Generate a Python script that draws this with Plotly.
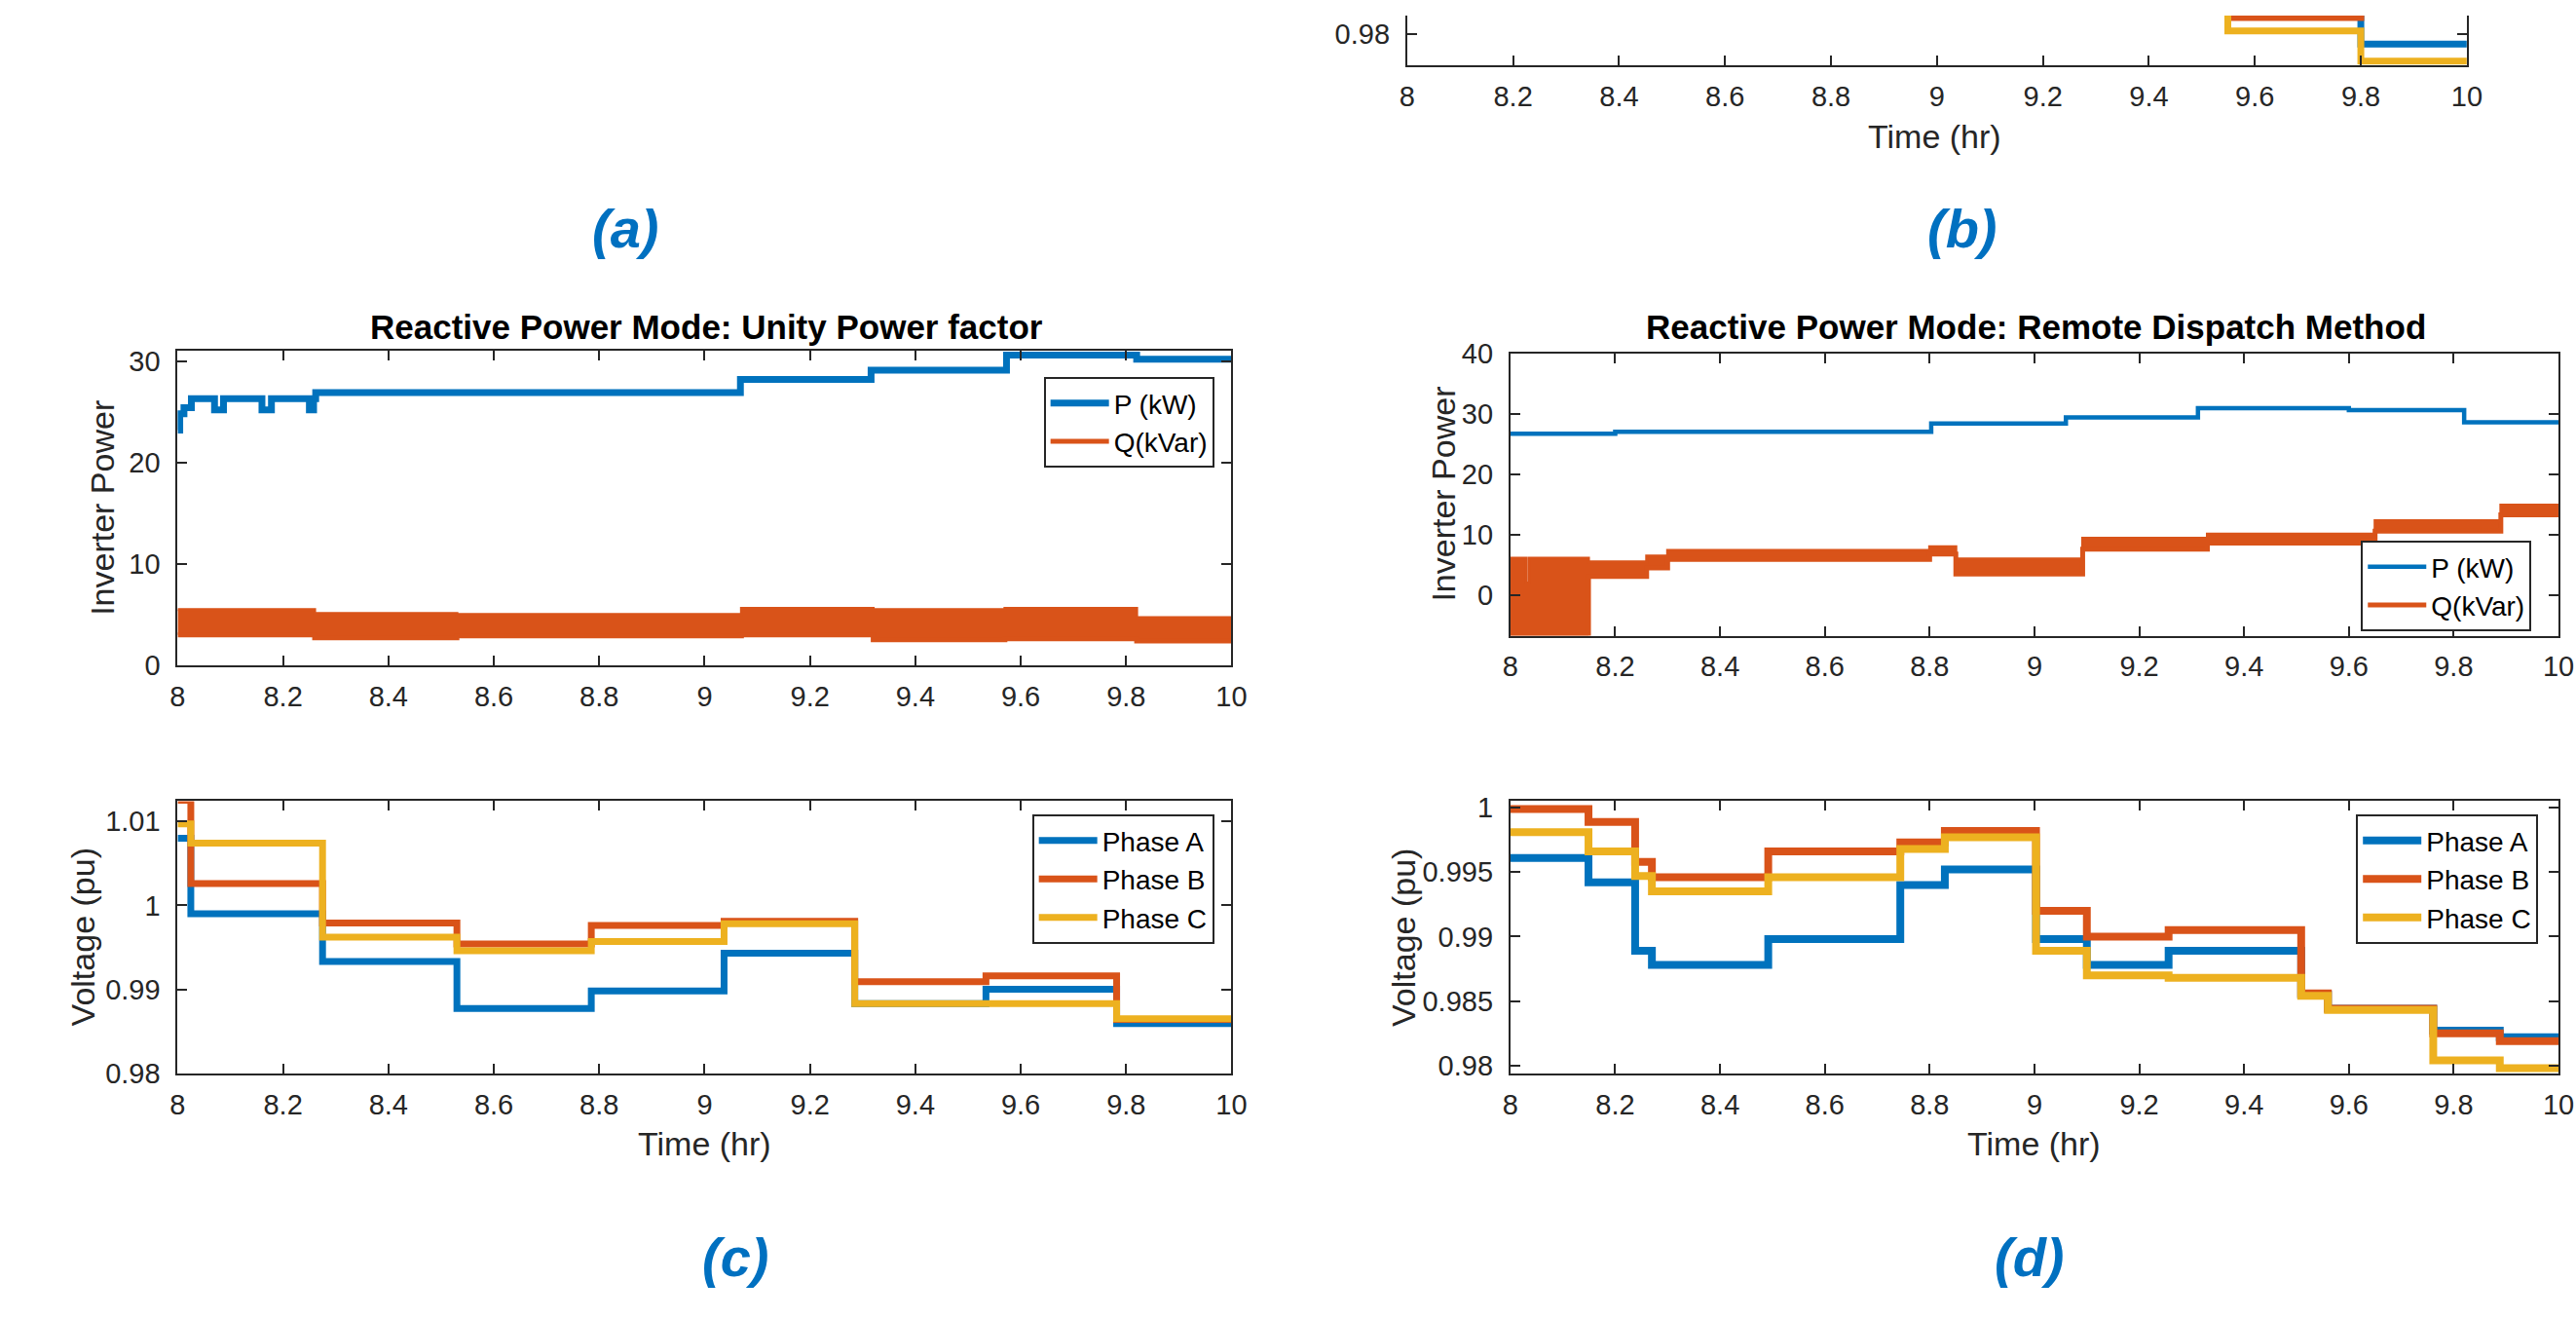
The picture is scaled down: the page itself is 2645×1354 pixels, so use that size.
import plotly.graph_objects as go

W, H = 2645, 1354
BLUE = '#0072BD'
ORANGE = '#D95319'
YELLOW = '#EDB120'
AX = '#262626'
FONT = 'Liberation Sans, Arial, Helvetica, sans-serif'

# ---------------- tick definitions ----------------
x_ticks = [8, 8.2, 8.4, 8.6, 8.8, 9, 9.2, 9.4, 9.6, 9.8, 10]
x_tick_labels = ['8', '8.2', '8.4', '8.6', '8.8', '9', '9.2', '9.4', '9.6', '9.8', '10']

# ---------------- panel (b) (only bottom part visible) ----------------
b_time = [9.4, 9.549, 9.8, 10.0]
b_phase_a = [0.9835, 0.9835, 0.97927, 0.97927]
b_phase_b = [0.9830, 0.98113, 0.9825, 0.9825]
b_phase_c = [0.9835, 0.9802, 0.97807, 0.97807]
b_y_ticks = [0.98]
b_y_labels = ['0.98']

# ---------------- panel (c) top: Unity power factor ----------------
c_p_time = [8.0, 8.004, 8.012, 8.026, 8.07, 8.087, 8.16, 8.178, 8.25, 8.258,
            8.262, 9.068, 9.316, 9.573, 9.82, 10.0]
c_p_kw = [23.2, 24.8, 25.4, 26.3, 25.2, 26.3, 25.2, 26.3, 25.2, 26.3,
          26.9, 28.2, 29.1, 30.6, 30.2, 30.2]
c_q_time = [8.0, 8.26, 8.53, 9.07, 9.32, 9.57, 9.82, 10.0]
c_q_low = [3.0, 2.7, 2.9, 3.0, 2.5, 2.6, 2.4, 2.4]
c_q_high = [5.5, 5.1, 5.0, 5.6, 5.5, 5.6, 4.7, 4.7]
c_pow_ticks = [0, 10, 20, 30]

# ---------------- panel (c) bottom: voltages ----------------
c_v_time = [8.0, 8.025, 8.275, 8.53, 8.785, 9.037, 9.285, 9.534, 9.782, 10.0]
c_phase_a = [1.0080, 0.9990, 0.9933, 0.9877, 0.9898, 0.9943, 0.9883, 0.9900, 0.9859, 0.9859]
c_phase_b = [1.0125, 1.0026, 0.9979, 0.9954, 0.9976, 0.9981, 0.9909, 0.9916, 0.9864, 0.9864]
c_phase_c = [1.0097, 1.0074, 0.9962, 0.9946, 0.9957, 0.9978, 0.9883, 0.9883, 0.9865, 0.9865]
c_v_ticks = [0.98, 0.99, 1.0, 1.01]
c_v_labels = ['0.98', '0.99', '1', '1.01']

# ---------------- panel (d) top: Remote dispatch ----------------
d_p_time = [8.0, 8.2, 8.803, 9.06, 9.312, 9.6, 9.82, 10.0]
d_p_kw = [26.7, 27.0, 28.4, 29.4, 30.9, 30.6, 28.6, 28.6]
d_q_time = [8.0, 8.03, 8.036, 8.149, 8.26, 8.3, 8.8, 8.85, 9.092, 9.33, 9.65, 9.89, 10.0]
d_q_low = [-6.7, -6.7, -6.7, 3.1, 4.5, 5.9, 6.8, 3.5, 7.6, 8.6, 10.6, 13.3, 13.3]
d_q_high = [6.1, 2.0, 6.1, 5.5, 6.5, 7.4, 8.0, 6.0, 9.4, 10.1, 12.3, 14.9, 14.9]
d_pow_ticks = [0, 10, 20, 30, 40]

# ---------------- panel (d) bottom: voltages ----------------
d_v_time = [8.0, 8.149, 8.238, 8.27, 8.492, 8.744, 8.829, 9.003, 9.1, 9.256,
            9.509, 9.56, 9.761, 9.888, 10.0]
d_phase_a = [0.9961, 0.9942, 0.9889, 0.9878, 0.9898, 0.9940, 0.9952, 0.9898, 0.9878, 0.9889,
             0.9855, 0.9844, 0.9827, 0.9822, 0.9822]
d_phase_b = [0.9999, 0.9989, 0.9958, 0.9946, 0.9966, 0.9973, 0.9982, 0.9920, 0.9900, 0.9905,
             0.9856, 0.9844, 0.9825, 0.9819, 0.9819]
d_phase_c = [0.9981, 0.9966, 0.9947, 0.9935, 0.9946, 0.9968, 0.9977, 0.9889, 0.9870, 0.9868,
             0.9854, 0.9843, 0.9804, 0.9798, 0.9798]
d_v_ticks = [0.98, 0.985, 0.99, 0.995, 1.0]
d_v_labels = ['0.98', '0.985', '0.99', '0.995', '1']


def fx(p):
    return p / W


def fy(p):
    return 1 - p / H


fig = go.Figure()


def step(x, y, xa, ya, color, width, name=None, legend=None, showlegend=False, fill=None):
    fig.add_trace(go.Scatter(
        x=x, y=y, xaxis=xa, yaxis=ya, mode='lines',
        line=dict(color=color, width=width, shape='hv'),
        name=name, legend=legend, showlegend=showlegend,
        fill=fill, fillcolor=color if fill else None,
        hoverinfo='skip'))


# panel (b)
step(b_time, b_phase_a, 'x5', 'y5', BLUE, 7)
step(b_time, b_phase_b, 'x5', 'y5', ORANGE, 7)
step(b_time, b_phase_c, 'x5', 'y5', YELLOW, 7)

# panel (c) top
step(c_p_time, c_p_kw, 'x', 'y', BLUE, 7, 'P (kW)', 'legend', True)
step(c_q_time, c_q_low, 'x', 'y', ORANGE, 5, 'Q(kVar)', 'legend', True)
step(c_q_time, c_q_high, 'x', 'y', ORANGE, 3, None, 'legend', False, 'tonexty')

# panel (c) bottom
step(c_v_time, c_phase_a, 'x2', 'y2', BLUE, 7, 'Phase A', 'legend2', True)
step(c_v_time, c_phase_b, 'x2', 'y2', ORANGE, 7, 'Phase B', 'legend2', True)
step(c_v_time, c_phase_c, 'x2', 'y2', YELLOW, 7, 'Phase C', 'legend2', True)

# panel (d) top
step(d_p_time, d_p_kw, 'x3', 'y3', BLUE, 4.5, 'P (kW)', 'legend3', True)
step(d_q_time, d_q_low, 'x3', 'y3', ORANGE, 5, 'Q(kVar)', 'legend3', True)
step(d_q_time, d_q_high, 'x3', 'y3', ORANGE, 3, None, 'legend3', False, 'tonexty')

# panel (d) bottom
step(d_v_time, d_phase_a, 'x4', 'y4', BLUE, 8, 'Phase A', 'legend4', True)
step(d_v_time, d_phase_b, 'x4', 'y4', ORANGE, 8, 'Phase B', 'legend4', True)
step(d_v_time, d_phase_c, 'x4', 'y4', YELLOW, 8, 'Phase C', 'legend4', True)

TICKFONT = dict(family=FONT, size=29, color=AX)


def xcfg(domain, anchor, mirror=True):
    return dict(domain=domain, anchor=anchor, range=[8, 10],
                tickvals=x_ticks, ticktext=x_tick_labels,
                ticks='inside', ticklen=10, tickwidth=1.5, tickcolor=AX,
                showline=True, linecolor=AX, linewidth=2,
                mirror='ticks' if mirror else False,
                showgrid=False, zeroline=False, tickfont=TICKFONT,
                ticklabelstandoff=5, fixedrange=True)


def ycfg(domain, anchor, rng, tv, tt):
    return dict(domain=domain, anchor=anchor, range=rng,
                tickvals=tv, ticktext=tt,
                ticks='inside', ticklen=10, tickwidth=1.5, tickcolor=AX,
                showline=True, linecolor=AX, linewidth=2, mirror='ticks',
                showgrid=False, zeroline=False, tickfont=TICKFONT,
                ticklabelstandoff=10, fixedrange=True)


c_x = [fx(176), fx(1268)]
d_x = [fx(1557), fx(2643)]
b_x = [fx(1450), fx(2548)]
c_top_y = [fy(683), fy(352)]
d_top_y = [fy(652), fy(355)]
bot_y = [fy(1112), fy(826)]
b_y = [fy(52), 1.0]

LEG = dict(bgcolor='white', bordercolor=AX, borderwidth=2,
           font=dict(family=FONT, size=28, color='black'),
           itemwidth=60, xanchor='right', yanchor='top',
           tracegroupgap=0, traceorder='normal')

fig.update_layout(
    width=W, height=H,
    margin=dict(l=0, r=0, t=0, b=0),
    paper_bgcolor='white', plot_bgcolor='white',
    xaxis=xcfg(c_x, 'y'),
    yaxis=ycfg(c_top_y, 'x', [0, 31.06], c_pow_ticks, [str(v) for v in c_pow_ticks]),
    xaxis2=xcfg(c_x, 'y2'),
    yaxis2=ycfg(bot_y, 'x2', [0.98, 1.0124], c_v_ticks, c_v_labels),
    xaxis3=xcfg(d_x, 'y3'),
    yaxis3=ycfg(d_top_y, 'x3', [-6.7, 40], d_pow_ticks, [str(v) for v in d_pow_ticks]),
    xaxis4=xcfg(d_x, 'y4'),
    yaxis4=ycfg(bot_y, 'x4', [0.9794, 1.0005], d_v_ticks, d_v_labels),
    xaxis5=xcfg(b_x, 'y5', mirror=False),
    yaxis5=ycfg(b_y, 'x5', [0.9778, 0.981267], b_y_ticks, b_y_labels),
    legend=dict(LEG, x=fx(1250), y=fy(380)),
    legend2=dict(LEG, x=fx(1250), y=fy(840)),
    legend3=dict(LEG, x=fx(2615), y=fy(552)),
    legend4=dict(LEG, x=fx(2622), y=fy(840)),
    showlegend=True,
)

LABELFONT = dict(family=FONT, size=34, color=AX)
TITLEFONT = dict(family=FONT, size=35, color='black')
LETTERFONT = dict(family=FONT, size=56, color='#0070C0')

annotations = []


def ann(text, x, y, font, angle=0):
    annotations.append(dict(text=text, x=fx(x), y=fy(y), xref='paper', yref='paper',
                            showarrow=False, font=font, textangle=angle,
                            xanchor='center', yanchor='middle'))


ann('<b>Reactive Power Mode: Unity Power factor</b>', 724, 327, TITLEFONT)
ann('<b>Reactive Power Mode: Remote Dispatch Method</b>', 2102, 327, TITLEFONT)
ann('Inverter Power', 98, 518, LABELFONT, -90)
ann('Inverter Power', 1488, 503, LABELFONT, -90)
ann('Voltage (pu)', 78, 969, LABELFONT, -90)
ann('Voltage (pu)', 1446, 969, LABELFONT, -90)
ann('Time (hr)', 1997, 127, LABELFONT)
ann('Time (hr)', 722, 1186, LABELFONT)
ann('Time (hr)', 2100, 1186, LABELFONT)
ann('<b><i>(a)</i></b>', 640, 224, LETTERFONT)
ann('<b><i>(b)</i></b>', 2025, 224, LETTERFONT)
ann('<b><i>(c)</i></b>', 754, 1305, LETTERFONT)
ann('<b><i>(d)</i></b>', 2095, 1305, LETTERFONT)

fig.update_layout(annotations=annotations)

fig.write_html('out.html', config={'displayModeBar': False},
               post_script="document.body.style.margin='0px';")
